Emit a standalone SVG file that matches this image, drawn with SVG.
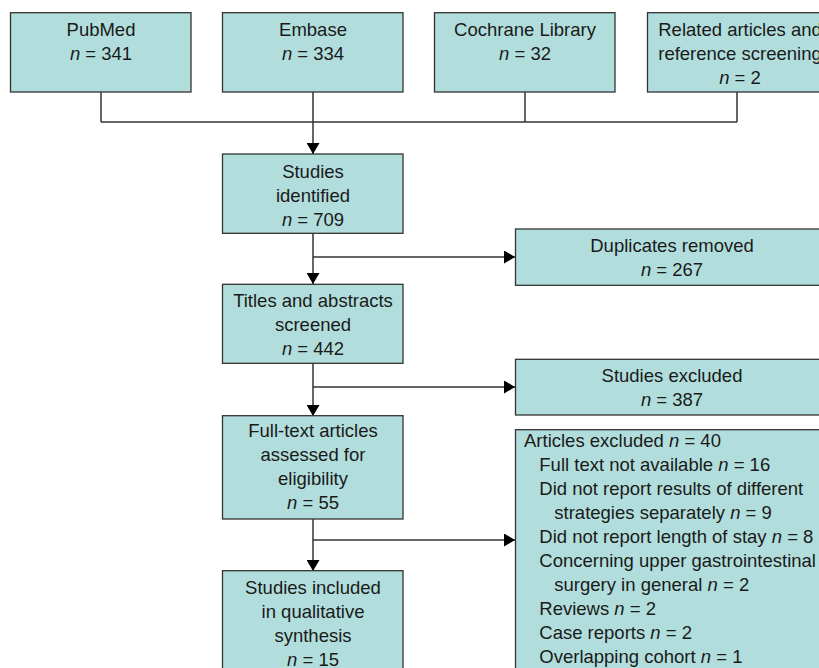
<svg xmlns="http://www.w3.org/2000/svg" width="819" height="668" viewBox="0 0 819 668">
<defs>
<style>
.box{fill:#b1dedc;stroke:#333;stroke-width:1.3}
.t{font-family:"Liberation Sans",Arial,sans-serif;font-size:18.5px;fill:#1a1a1a}
.c{text-anchor:middle}
.ln{fill:none;stroke:#333;stroke-width:1.5}
.i{font-style:italic}
</style>
<marker id="ah" markerUnits="userSpaceOnUse" markerWidth="11" markerHeight="13" refX="11" refY="6.5" orient="auto" viewBox="0 0 11 13">
<path d="M0,0 L11,6.5 L0,13 z" fill="#000"/>
</marker>
</defs>
<rect width="819" height="668" fill="#fff"/>
<g id="connectors">
<path class="ln" d="M101,92 V122 M313,92 V122 M525,92 V122 M737,92 V122 M101,122 H737"/>
<path class="ln" d="M313,122 V154" marker-end="url(#ah)"/>
<path class="ln" d="M313,233 V284" marker-end="url(#ah)"/>
<path class="ln" d="M313,257 H515" marker-end="url(#ah)"/>
<path class="ln" d="M313,363 V416" marker-end="url(#ah)"/>
<path class="ln" d="M313,387 H515" marker-end="url(#ah)"/>
<path class="ln" d="M313,519 V571" marker-end="url(#ah)"/>
<path class="ln" d="M313,540 H515" marker-end="url(#ah)"/>
</g>
<g id="pubmed">
<rect class="box" x="10.5" y="12.7" width="180.5" height="79.3"/>
<text class="t c" x="101" y="35.5">PubMed</text>
<text class="t c" x="101" y="59.5"><tspan class="i">n</tspan> = 341</text>
</g>
<g id="embase">
<rect class="box" x="222.5" y="12.7" width="180.5" height="79.3"/>
<text class="t c" x="313" y="35.5">Embase</text>
<text class="t c" x="313" y="59.5"><tspan class="i">n</tspan> = 334</text>
</g>
<g id="cochrane">
<rect class="box" x="434.5" y="12.7" width="180.5" height="79.3"/>
<text class="t c" x="525" y="35.5">Cochrane Library</text>
<text class="t c" x="525" y="59.5"><tspan class="i">n</tspan> = 32</text>
</g>
<g id="related">
<rect class="box" x="647.5" y="12.7" width="185" height="79.3"/>
<text class="t c" x="740" y="35.5">Related articles and</text>
<text class="t c" x="740" y="59.5">reference screening</text>
<text class="t c" x="740" y="83.5"><tspan class="i">n</tspan> = 2</text>
</g>
<g id="identified">
<rect class="box" x="222.5" y="154" width="180.5" height="79.3"/>
<text class="t c" x="313" y="177.5">Studies</text>
<text class="t c" x="313" y="201.5">identified</text>
<text class="t c" x="313" y="225.5"><tspan class="i">n</tspan> = 709</text>
</g>
<g id="duplicates">
<rect class="box" x="515.5" y="229" width="315" height="56.3"/>
<text class="t c" x="672" y="252.3">Duplicates removed</text>
<text class="t c" x="672" y="276.3"><tspan class="i">n</tspan> = 267</text>
</g>
<g id="screened">
<rect class="box" x="222.5" y="284.3" width="180.5" height="79"/>
<text class="t c" x="313" y="306.7">Titles and abstracts</text>
<text class="t c" x="313" y="330.7">screened</text>
<text class="t c" x="313" y="354.7"><tspan class="i">n</tspan> = 442</text>
</g>
<g id="excluded">
<rect class="box" x="515.5" y="359.3" width="315" height="55.7"/>
<text class="t c" x="672" y="382.3">Studies excluded</text>
<text class="t c" x="672" y="406.3"><tspan class="i">n</tspan> = 387</text>
</g>
<g id="fulltext">
<rect class="box" x="222.5" y="415.7" width="180.5" height="103.3"/>
<text class="t c" x="313" y="437.3">Full-text articles</text>
<text class="t c" x="313" y="461.3">assessed for</text>
<text class="t c" x="313" y="485.3">eligibility</text>
<text class="t c" x="313" y="509.3"><tspan class="i">n</tspan> = 55</text>
</g>
<g id="articles-excluded">
<rect class="box" x="515.5" y="429.7" width="315" height="250"/>
<text class="t" x="524" y="446.5">Articles excluded <tspan class="i">n</tspan> = 40</text>
<text class="t" x="539.3" y="470.5">Full text not available <tspan class="i">n</tspan> = 16</text>
<text class="t" x="539.3" y="494.5">Did not report results of different</text>
<text class="t" x="554.3" y="518.5">strategies separately <tspan class="i">n</tspan> = 9</text>
<text class="t" x="539.3" y="542.5">Did not report length of stay <tspan class="i">n</tspan> = 8</text>
<text class="t" x="539.3" y="566.5">Concerning upper gastrointestinal</text>
<text class="t" x="554.3" y="590.5">surgery in general <tspan class="i">n</tspan> = 2</text>
<text class="t" x="539.3" y="614.5">Reviews <tspan class="i">n</tspan> = 2</text>
<text class="t" x="539.3" y="638.5">Case reports <tspan class="i">n</tspan> = 2</text>
<text class="t" x="539.3" y="662.5">Overlapping cohort <tspan class="i">n</tspan> = 1</text>
</g>
<g id="included">
<rect class="box" x="222.5" y="570.7" width="180.5" height="110"/>
<text class="t c" x="313" y="594.3">Studies included</text>
<text class="t c" x="313" y="618.3">in qualitative</text>
<text class="t c" x="313" y="642.3">synthesis</text>
<text class="t c" x="313" y="666.3"><tspan class="i">n</tspan> = 15</text>
</g>
</svg>
